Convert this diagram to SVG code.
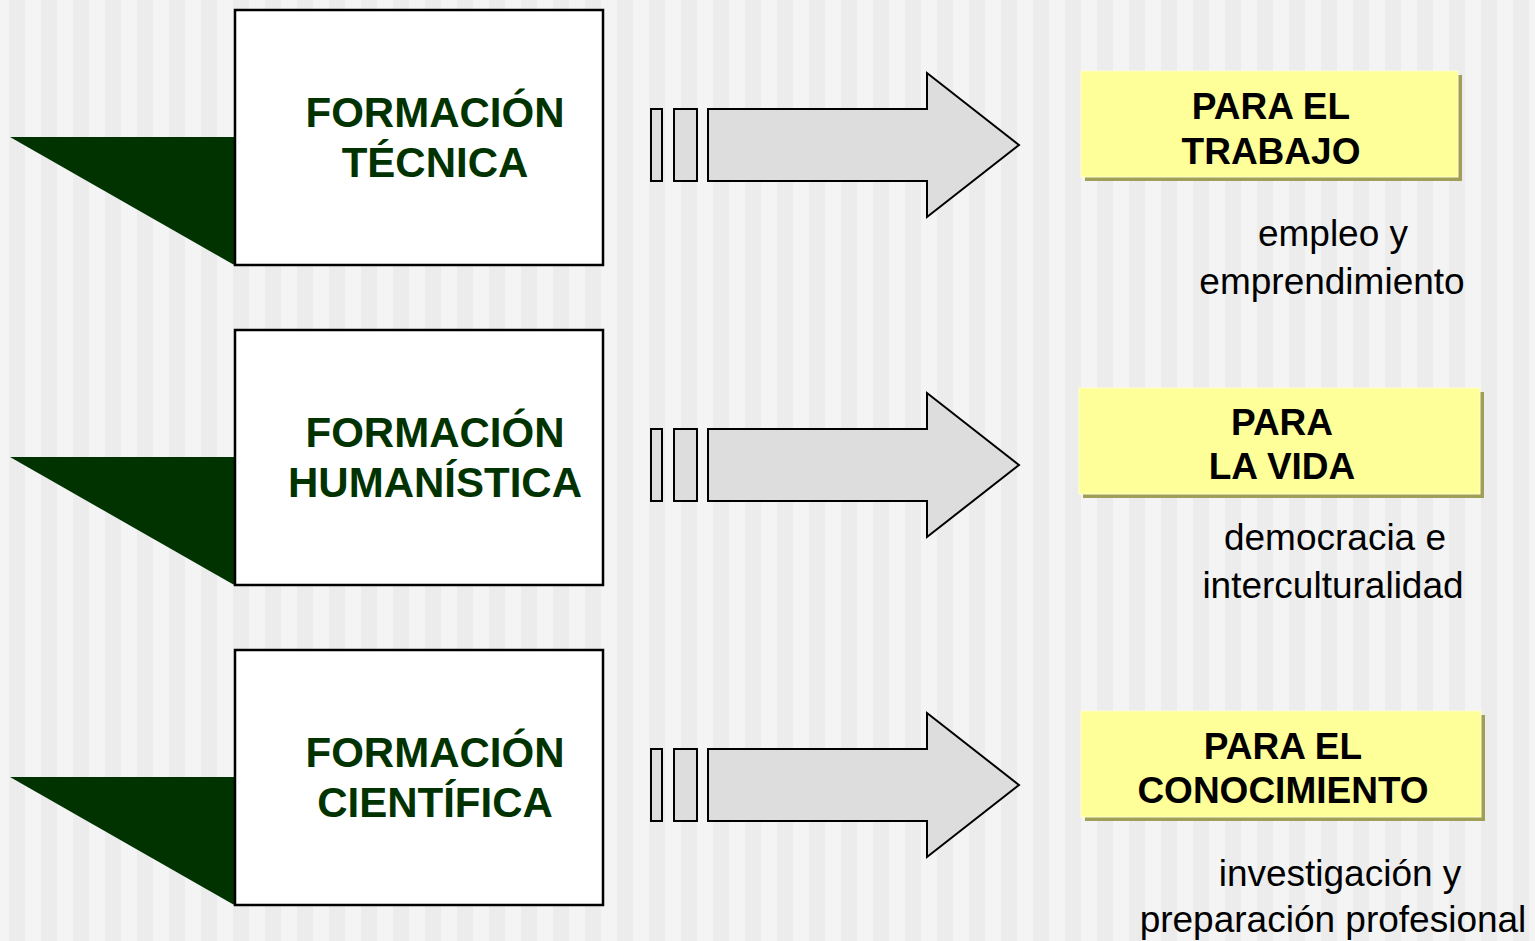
<svg xmlns="http://www.w3.org/2000/svg" width="1535" height="941" viewBox="0 0 1535 941">
<defs>
<pattern id="stripes" x="0" y="0" width="32" height="941" patternUnits="userSpaceOnUse">
<rect x="0" y="0" width="32" height="941" fill="#f4f4f4"/>
<rect x="9" y="0" width="16" height="941" fill="#ececec"/>
</pattern>
<style>
.box{fill:#ffffff;stroke:#000000;stroke-width:2.5}
.tri{fill:#003300}
.title{font-family:"Liberation Sans",Arial,sans-serif;font-weight:bold;font-size:42px;fill:#003300;text-anchor:middle}
.arr{fill:#dddddd;stroke:#000000;stroke-width:2;stroke-linejoin:miter}
.ybox{fill:#ffff99;stroke:#ffffcc;stroke-width:1}
.yshadow{fill:#9f9f58}
.ytext{font-family:"Liberation Sans",Arial,sans-serif;font-weight:bold;font-size:37px;fill:#000000;text-anchor:middle}
.sub{font-family:"Liberation Sans",Arial,sans-serif;font-size:37px;fill:#000000;text-anchor:middle}
</style>
</defs>
<rect x="0" y="0" width="1535" height="941" fill="url(#stripes)"/>

<g id="formacion-tecnica">
<polygon class="tri" points="10,137 236,137 236,266"/>
<rect class="box" x="235" y="10" width="368" height="255"/>
<text class="title" x="435" y="127">FORMACIÓN</text>
<text class="title" x="435" y="177">TÉCNICA</text>
</g>
<g id="formacion-humanistica">
<polygon class="tri" points="10,457 236,457 236,586"/>
<rect class="box" x="235" y="330" width="368" height="255"/>
<text class="title" x="435" y="447">FORMACIÓN</text>
<text class="title" x="435" y="497">HUMANÍSTICA</text>
</g>
<g id="formacion-cientifica">
<polygon class="tri" points="10,777 236,777 236,906"/>
<rect class="box" x="235" y="650" width="368" height="255"/>
<text class="title" x="435" y="767">FORMACIÓN</text>
<text class="title" x="435" y="817">CIENTÍFICA</text>
</g>

<g id="connectors">
<g id="arrow-1">
<rect class="arr" x="651" y="109" width="11" height="72"/>
<rect class="arr" x="674" y="109" width="23" height="72"/>
<polygon class="arr" points="708,109 927,109 927,73 1019,145 927,217 927,181 708,181"/>
</g>
<g id="arrow-2" transform="translate(0,320)">
<rect class="arr" x="651" y="109" width="11" height="72"/>
<rect class="arr" x="674" y="109" width="23" height="72"/>
<polygon class="arr" points="708,109 927,109 927,73 1019,145 927,217 927,181 708,181"/>
</g>
<g id="arrow-3" transform="translate(0,640)">
<rect class="arr" x="651" y="109" width="11" height="72"/>
<rect class="arr" x="674" y="109" width="23" height="72"/>
<polygon class="arr" points="708,109 927,109 927,73 1019,145 927,217 927,181 708,181"/>
</g>
</g>

<g id="para-el-trabajo">
<rect class="yshadow" x="1085" y="75" width="377" height="106"/>
<rect class="ybox" x="1081" y="71" width="377" height="106"/>
<text class="ytext" x="1271" y="119">PARA EL</text>
<text class="ytext" x="1271" y="164">TRABAJO</text>
</g>
<g id="sub-trabajo">
<text class="sub" x="1333" y="246">empleo y</text>
<text class="sub" x="1332" y="294">emprendimiento</text>
</g>

<g id="para-la-vida">
<rect class="yshadow" x="1083" y="392" width="401" height="106"/>
<rect class="ybox" x="1079" y="388" width="401" height="106"/>
<text class="ytext" x="1282" y="435">PARA</text>
<text class="ytext" x="1282" y="479">LA VIDA</text>
</g>
<g id="sub-vida">
<text class="sub" x="1335" y="550">democracia e</text>
<text class="sub" x="1333" y="598">interculturalidad</text>
</g>

<g id="para-el-conocimiento">
<rect class="yshadow" x="1085" y="715" width="400" height="106"/>
<rect class="ybox" x="1081" y="711" width="400" height="106"/>
<text class="ytext" x="1283" y="759">PARA EL</text>
<text class="ytext" x="1283" y="803">CONOCIMIENTO</text>
</g>
<g id="sub-conocimiento">
<text class="sub" x="1340" y="886">investigación y</text>
<text class="sub" x="1333" y="932">preparación profesional</text>
</g>
</svg>
